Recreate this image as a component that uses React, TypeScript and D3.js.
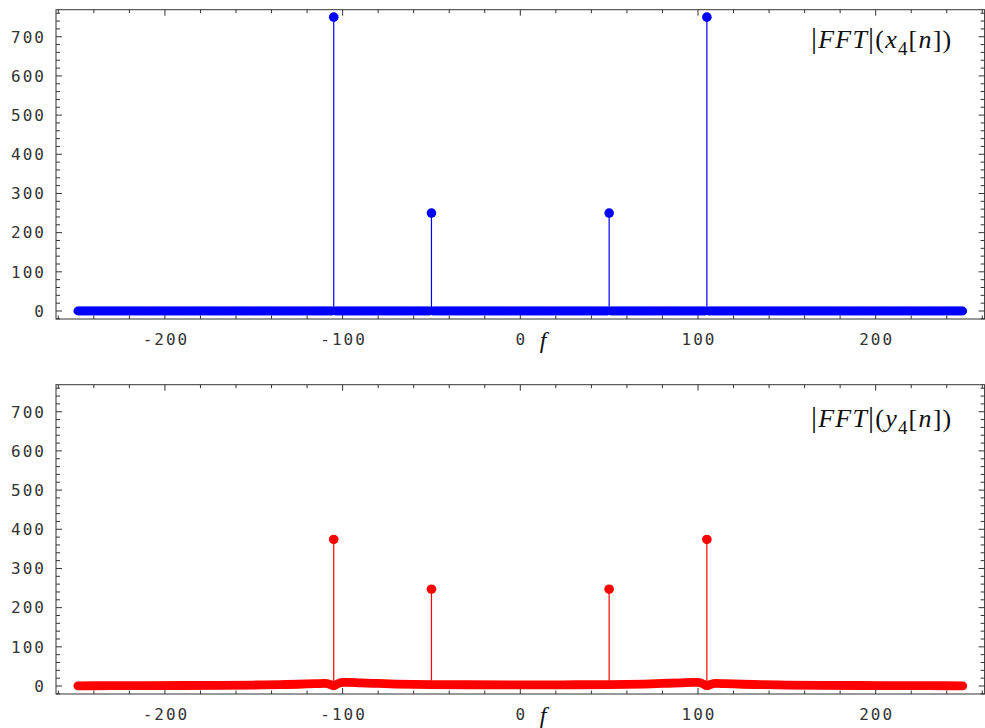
import React from 'react';
import * as d3 from 'd3';

// ---- data ----
const freqs: number[] = d3.range(-249, 250); // frequency bins f
const spikeFreqs: number[] = [-105, -50, 50, 105];
const xSpikeVals: number[] = [750, 250, 250, 750]; // |FFT|(x4[n]) peaks
const ySpikeVals: number[] = [374, 247, 247, 374]; // |FFT|(y4[n]) peaks
// |FFT|(x4[n]) is zero at every other bin
const xBaseVals: number[] = freqs.map(() => 0);
// |FFT|(y4[n]) small leakage floor, read at selected bins
const yBaseFreqs: number[] = [-249, -230, -210, -190, -170, -150, -135, -125, -115, -110, -107, -105, -103, -100, -97, -90, -80, -70, -60, -50, -30, 0, 30, 50, 60, 70, 80, 90, 97, 100, 103, 105, 107, 110, 115, 125, 135, 150, 170, 190, 210, 230, 249];
const yBaseVals: number[] = [0.5, 0.8, 1, 1.3, 1.8, 2.5, 3.5, 4.5, 6, 6.5, 4, 0.5, 5, 9, 9.5, 8, 6.5, 5, 4, 3.5, 3.2, 3, 3.2, 3.5, 4, 5, 6.5, 8, 9.5, 9, 5, 0.5, 4, 6.5, 6, 4.5, 3.5, 2.5, 1.8, 1.3, 1, 0.8, 0.5];
const xTickLabels: number[] = [-200, -100, 0, 100, 200];
const yTickLabels: number[] = [0, 100, 200, 300, 400, 500, 600, 700];

const W = 985;
const H = 728;
const LEFT = 56;
const RIGHT = 984.6;
const X_DOMAIN: [number, number] = [-261.3, 261.3];
const Y_DOMAIN: [number, number] = [-20.4, 769];

const tickFont = "'DejaVu Sans Mono', monospace";
const LS = 2;

type PanelProps = {
  off: number;
  color: string;
  spikeVals: number[];
  base: 'dots' | 'line';
  letter: string;
  labelY: number;
};

function Panel({ off, color, spikeVals, base, letter, labelY }: PanelProps) {
  const top = 9.7 + off;
  const bottom = 319 + off;
  const x = d3.scaleLinear().domain(X_DOMAIN).range([LEFT, RIGHT]);
  const y = d3.scaleLinear().domain(Y_DOMAIN).range([bottom, top]);
  const xMinor = d3.range(-260, 261, 20);
  const yMinor = d3.range(-20, 770, 20);
  const frameColor = '#333';
  const r = 4.4;

  const line = d3
    .line<number>()
    .x((_, i) => x(yBaseFreqs[i]))
    .y((d) => y(d))
    .curve(d3.curveMonotoneX);

  return (
    <g>
      {/* frame */}
      <rect x={LEFT} y={top} width={RIGHT - LEFT} height={bottom - top} fill="none" stroke={frameColor} strokeWidth={1} />
      {/* x ticks bottom & top */}
      {xMinor.map((v) => {
        const major = v % 100 === 0;
        const len = major ? 6 : 3.5;
        return (
          <g key={'xt' + v}>
            <line x1={x(v)} x2={x(v)} y1={bottom} y2={bottom - len} stroke={frameColor} strokeWidth={1} />
            <line x1={x(v)} x2={x(v)} y1={top} y2={top + len} stroke={frameColor} strokeWidth={1} />
          </g>
        );
      })}
      {/* y ticks left & right */}
      {yMinor.map((v) => {
        const major = v % 100 === 0;
        const len = major ? 6 : 4;
        return (
          <g key={'yt' + v}>
            <line x1={LEFT} x2={LEFT + len} y1={y(v)} y2={y(v)} stroke={frameColor} strokeWidth={1} />
            <line x1={RIGHT} x2={RIGHT - len} y1={y(v)} y2={y(v)} stroke={frameColor} strokeWidth={1} />
          </g>
        );
      })}
      {/* y tick labels */}
      {yTickLabels.map((v) => (
        <text key={'yl' + v} x={44 + LS} y={y(v) + 5.8} textAnchor="end" fontFamily={tickFont} fontSize={16} letterSpacing={LS} fill="#333">
          {String(v)}
        </text>
      ))}
      {/* x tick labels */}
      {xTickLabels.map((v) => (
        <text key={'xl' + v} x={x(v) + LS / 2} y={345 + off} textAnchor="middle" fontFamily={tickFont} fontSize={16} letterSpacing={LS} fill="#333">
          {String(v)}
        </text>
      ))}
      <text x={543} y={348 + off} textAnchor="middle" fontFamily="'Liberation Serif', serif" fontStyle="italic" fontSize={24} fill="#111">
        f
      </text>

      {/* baseline */}
      {base === 'dots' ? (
        <g>
          {freqs.map((f, i) =>
            spikeFreqs.includes(f) ? null : <circle key={'b' + f} cx={x(f)} cy={y(xBaseVals[i])} r={r} fill={color} />
          )}
        </g>
      ) : (
        <path d={line(yBaseVals) || ''} fill="none" stroke={color} strokeWidth={2 * r} strokeLinecap="round" strokeLinejoin="round" />
      )}

      {/* stems */}
      {spikeFreqs.map((f, i) => (
        <g key={'s' + f}>
          <line x1={x(f)} x2={x(f)} y1={y(0)} y2={y(spikeVals[i])} stroke={color} strokeWidth={1.2} />
          <circle cx={x(f)} cy={y(spikeVals[i])} r={r + 0.4} fill={color} />
        </g>
      ))}

      {/* panel label */}
      <text x={811} y={labelY} fontFamily="'Liberation Serif', serif" fontSize={26} letterSpacing={1.2} fill="#111">
        <tspan fontSize={30}>|</tspan>
        <tspan fontStyle="italic">FFT</tspan>
        <tspan fontSize={30}>|</tspan>
        <tspan>(</tspan>
        <tspan fontStyle="italic">{letter}</tspan>
        <tspan fontSize={19} dy={7}>4</tspan>
        <tspan dy={-7}>[</tspan>
        <tspan fontStyle="italic">n</tspan>
        <tspan>])</tspan>
      </text>
    </g>
  );
}

export default function App() {
  return (
    <svg width={W} height={H} viewBox={`0 0 ${W} ${H}`} style={{ position: 'absolute', left: 0, top: 0, background: '#fff' }}>
      <rect x={0} y={0} width={W} height={H} fill="#fff" />
      <Panel off={0} color="#0000ff" spikeVals={xSpikeVals} base="dots" letter="x" labelY={48} />
      <Panel off={375} color="#ff0000" spikeVals={ySpikeVals} base="line" letter="y" labelY={427} />
    </svg>
  );
}
